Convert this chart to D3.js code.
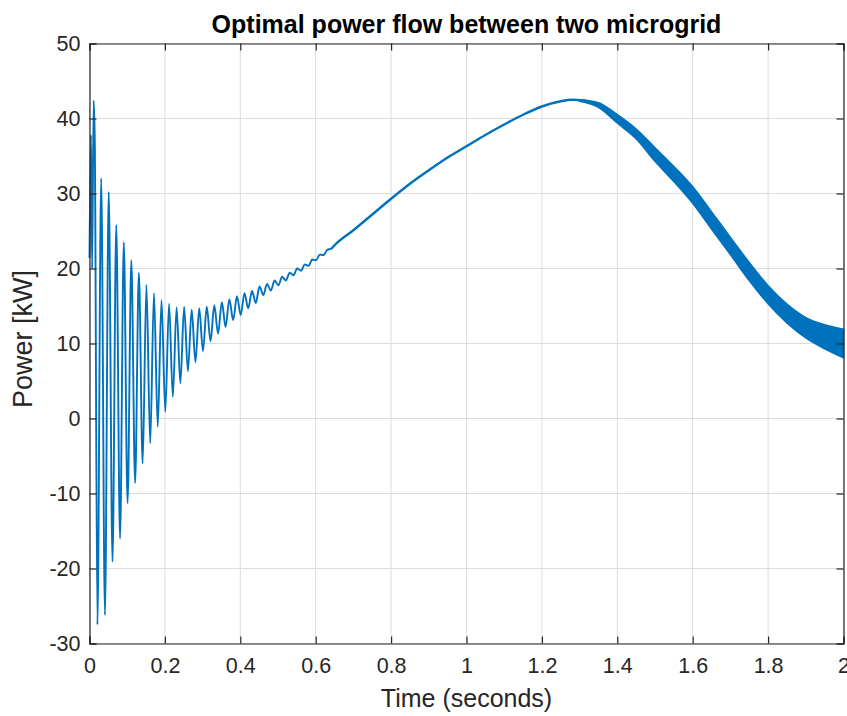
<!DOCTYPE html>
<html>
<head>
<meta charset="utf-8">
<script src="https://cdn.jsdelivr.net/npm/d3@7"></script>
<style>
	body { margin: 0; background: #fff; overflow: hidden; }
	svg { display: block; }
	text { font-family: "Liberation Sans", Arial, Helvetica, sans-serif; fill: #262626; }
	.tick text { font-size: 21.5px; }
	.title { font-size: 25px; font-weight: bold; fill: #000; }
	.x-label { font-size: 25px; }
	.y-label { font-size: 27px; }
</style>
</head>
<body>
<svg width="847" height="716"></svg>
<script>
// early oscillation: peaks and troughs
const oscTime = [0, 0.004, 0.007, 0.011, 0.014, 0.021, 0.031, 0.041, 0.051, 0.061,
	0.071, 0.081, 0.091, 0.101, 0.111, 0.121, 0.131, 0.141, 0.151, 0.161,
	0.171, 0.181, 0.191, 0.201, 0.211, 0.221, 0.231, 0.241, 0.251, 0.261,
	0.271, 0.281, 0.291, 0.301, 0.311, 0.321, 0.331, 0.341, 0.351, 0.361,
	0.371, 0.381, 0.391, 0.401, 0.411, 0.421, 0.431, 0.441, 0.451, 0.461,
	0.471, 0.481, 0.491, 0.501, 0.511, 0.521, 0.531, 0.541, 0.551, 0.561,
	0.571, 0.581, 0.591, 0.601, 0.611, 0.621, 0.631, 0.641];
const oscValue = [21.4, 37.8, 20.0, 42.4, 37.1, -27.5, 32.0, -26.2, 30.2, -19.1,
	25.8, -16.0, 23.5, -11.3, 21.1, -8.6, 19.4, -6.0, 17.8, -3.3,
	16.7, -1.1, 15.8, 0.9, 15.3, 2.9, 14.8, 4.7, 14.9, 6.3,
	14.5, 7.5, 14.7, 9.0, 14.9, 10.3, 15.1, 11.3, 15.5, 12.2,
	15.9, 13.1, 16.3, 13.8, 16.7, 14.7, 17.0, 15.4, 17.6, 16.45,
	17.95, 17.05, 18.4, 17.75, 18.9, 18.4, 19.45, 19.1, 20.0, 19.7,
	20.55, 20.35, 21.2, 21.1, 21.85, 21.8, 22.5, 22.6];

// smooth rise to the maximum
const trendTime = [0.65, 0.7, 0.75, 0.8, 0.85, 0.9, 0.95, 1.0, 1.05, 1.1, 1.15, 1.2, 1.25, 1.28, 1.31, 1.35];
const trendValue = [23.1, 25.1, 27.2, 29.3, 31.3, 33.1, 34.8, 36.3, 37.8, 39.2, 40.5, 41.6, 42.3, 42.5, 42.4, 41.8];

// fast ripple after the peak, drawn as its envelope
const bandTime = [1.3, 1.35, 1.4, 1.45, 1.5, 1.55, 1.6, 1.65, 1.7, 1.75, 1.8, 1.85, 1.9, 1.95, 2.0];
const bandUpper = [42.5, 42.1, 40.5, 38.6, 36.1, 33.6, 30.9, 27.55, 24.15, 20.8, 17.7, 15.25, 13.45, 12.5, 11.9];
const bandLower = [42.3, 41.5, 39.4, 37.3, 34.3, 31.6, 28.7, 25.25, 21.85, 18.4, 15.3, 12.75, 10.75, 9.3, 8.1];

const xTicks = [0, 0.2, 0.4, 0.6, 0.8, 1, 1.2, 1.4, 1.6, 1.8, 2];
const xTickLabels = ['0', '0.2', '0.4', '0.6', '0.8', '1', '1.2', '1.4', '1.6', '1.8', '2'];
const yTicks = [-30, -20, -10, 0, 10, 20, 30, 40, 50];

const svg = d3.select('svg');
const margin = {top: 43.5, left: 89.5, right: 3.5, bottom: 72.5};
const innerWidth = +svg.attr('width') - margin.left - margin.right;
const innerHeight = +svg.attr('height') - margin.top - margin.bottom;
const lineColor = '#0072bd';
const axisColor = '#262626';

const xScale = d3.scaleLinear().domain([0, 2]).range([0, innerWidth]);
const yScale = d3.scaleLinear().domain([-30, 50]).range([innerHeight, 0]);

const g = svg.append('g')
	.attr('transform', `translate(${margin.left}, ${margin.top})`);

// grid
g.append('g').selectAll('line').data(xTicks).enter().append('line')
	.attr('x1', d => xScale(d)).attr('x2', d => xScale(d))
	.attr('y1', 0).attr('y2', innerHeight)
	.attr('stroke', '#dcdcdc').attr('stroke-width', 1);
g.append('g').selectAll('line').data(yTicks).enter().append('line')
	.attr('y1', d => yScale(d)).attr('y2', d => yScale(d))
	.attr('x1', 0).attr('x2', innerWidth)
	.attr('stroke', '#dcdcdc').attr('stroke-width', 1);

// data
const osc = oscTime.map((t, i) => ({t, v: oscValue[i]}));
const trend = trendTime.map((t, i) => ({t, v: trendValue[i]}));
const band = bandTime.map((t, i) => ({t, hi: bandUpper[i], lo: bandLower[i]}));

const smooth = d3.line().x(d => xScale(d.t)).y(d => yScale(d.v)).curve(d3.curveMonotoneX);

g.append('path')
	.attr('d', smooth(osc))
	.attr('fill', 'none')
	.attr('stroke', lineColor)
	.attr('stroke-width', 1.9)
	.attr('stroke-linejoin', 'round');

g.append('path')
	.attr('d', smooth([osc[osc.length - 1]].concat(trend)))
	.attr('fill', 'none')
	.attr('stroke', lineColor)
	.attr('stroke-width', 2.4);

g.append('path')
	.attr('d', d3.area()
		.x(d => xScale(d.t))
		.y0(d => yScale(d.lo))
		.y1(d => yScale(d.hi))
		.curve(d3.curveMonotoneX)(band))
	.attr('fill', lineColor)
	.attr('stroke', lineColor)
	.attr('stroke-width', 1.6);

// axes, ticks inside on all four sides
const xAxisG = g.append('g')
	.attr('transform', `translate(0, ${innerHeight})`)
	.call(d3.axisBottom(xScale).tickValues(xTicks)
		.tickFormat((d, i) => xTickLabels[i]).tickSize(-7).tickPadding(14));
const yAxisG = g.append('g')
	.call(d3.axisLeft(yScale).tickValues(yTicks)
		.tickFormat(d => String(d)).tickSize(-7).tickPadding(9));
const topG = g.append('g')
	.call(d3.axisTop(xScale).tickValues(xTicks).tickSize(-7));
const rightG = g.append('g')
	.attr('transform', `translate(${innerWidth}, 0)`)
	.call(d3.axisRight(yScale).tickValues(yTicks).tickSize(-7));
topG.selectAll('.tick text').remove();
rightG.selectAll('.tick text').remove();

[xAxisG, yAxisG, topG, rightG].forEach(a => {
	a.selectAll('.domain').attr('stroke', axisColor).attr('stroke-width', 1.2);
	a.selectAll('.tick line').attr('stroke', axisColor).attr('stroke-width', 1.2);
	a.selectAll('.tick text').attr('fill', axisColor);
	a.attr('font-family', null).attr('font-size', null);
});

g.append('text')
	.attr('class', 'title')
	.attr('x', innerWidth / 2)
	.attr('y', -11)
	.attr('text-anchor', 'middle')
	.text('Optimal power flow between two microgrid');

g.append('text')
	.attr('class', 'x-label')
	.attr('x', innerWidth / 2)
	.attr('y', innerHeight + 63)
	.attr('text-anchor', 'middle')
	.text('Time (seconds)');

g.append('text')
	.attr('class', 'y-label')
	.attr('transform', `translate(${-57.5}, ${innerHeight / 2 - 4.5}) rotate(-90)`)
	.attr('text-anchor', 'middle')
	.text('Power [kW]');
</script>
</body>
</html>
